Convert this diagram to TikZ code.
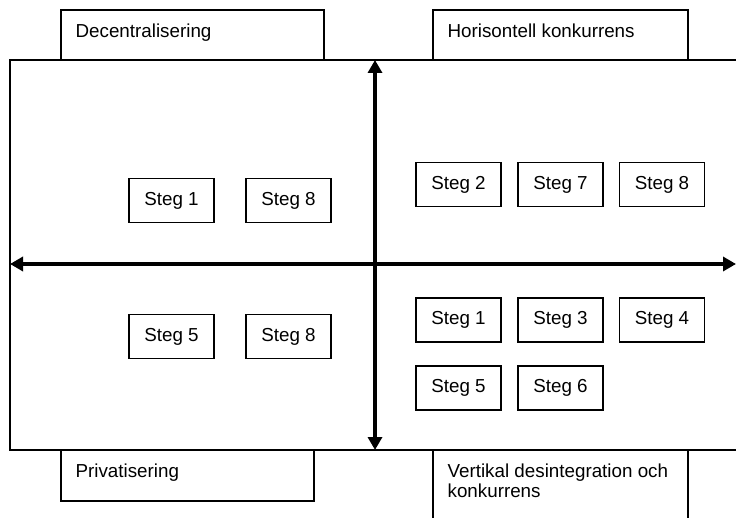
\documentclass[tikz,border=0pt]{standalone}
\usepackage{fontspec}
\setmainfont{Liberation Sans}
\usetikzlibrary{arrows.meta}

\begin{document}
\begin{tikzpicture}[x=1pt, y=-1pt,
    every node/.style={font=\fontsize{18.8}{20}\selectfont},
    steg/.style={draw, line width=1.2pt, minimum width=85pt, minimum height=44pt, inner sep=0pt},
    ruta/.style={draw, line width=1.2pt, fill=white, inner sep=0pt},
    rubrik/.style={anchor=north west, inner sep=0pt, align=left, xshift=15pt, yshift=-14pt},
    axel/.style={line width=4pt, {Triangle[length=13pt,width=14pt]}-{Triangle[length=13pt,width=14pt]}}]
            \useasboundingbox (0,0) rectangle (736,518);

            % Ram
            \draw[line width=1.2pt] (10,60) rectangle (745,450);

            % Axlar
            \coordinate (vanster) at (10,264);
            \coordinate (hoger) at (736,264);
            \coordinate (topp) at (375,60);
            \coordinate (botten) at (375,450);
            \draw[axel] (vanster) -- (hoger);
            \draw[axel] (topp) -- (botten);

            % Rubriker
            \node[ruta, minimum width=263pt, minimum height=50pt, label={[rubrik]north west:Decentralisering}] (dec) at (192.5,35) {};
            \node[ruta, minimum width=255pt, minimum height=50pt, label={[rubrik]north west:Horisontell konkurrens}] (hor) at (560.5,35) {};
            \node[ruta, minimum width=253pt, minimum height=51pt, label={[rubrik]north west:Privatisering}] (pri) at (187.5,475.5) {};
            \node[ruta, minimum width=255pt, minimum height=90pt, label={[rubrik]north west:Vertikal desintegration och\\konkurrens}] (ver) at (560.5,495) {};

            % Steg
            \node[steg] (dsteg1) at (171.5,200.5) {Steg 1};
            \node[steg] (dsteg8) at (288.5,200.5) {Steg 8};
            \node[steg] (psteg5) at (171.5,336.5) {Steg 5};
            \node[steg] (psteg8) at (288.5,336.5) {Steg 8};
            \node[steg] (hsteg2) at (458.5,184.5) {Steg 2};
            \node[steg] (hsteg7) at (560.5,184.5) {Steg 7};
            \node[steg] (hsteg8) at (662,184.5) {Steg 8};
            \node[steg] (vsteg1) at (458.5,320) {Steg 1};
            \node[steg] (vsteg3) at (560.5,320) {Steg 3};
            \node[steg] (vsteg4) at (662,320) {Steg 4};
            \node[steg] (vsteg5) at (458.5,388) {Steg 5};
            \node[steg] (vsteg6) at (560.5,388) {Steg 6};
\end{tikzpicture}
\end{document}
